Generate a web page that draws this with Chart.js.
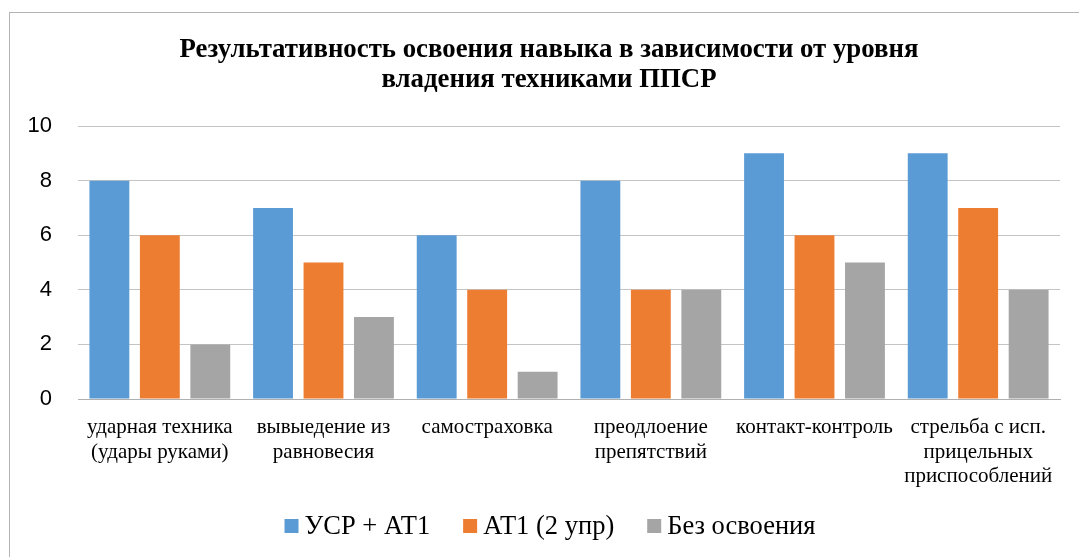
<!DOCTYPE html>
<html>
<head>
<meta charset="utf-8">
<script src="https://cdn.jsdelivr.net/npm/chart.js@4/dist/chart.umd.min.js"></script>
<style>
  body { margin: 0; background: #fff; }
  #wrap { position: relative; width: 1079px; height: 557px; }
  #frame { position: absolute; left: 9px; top: 12px; right: -2px; bottom: -2px; border: 1px solid #b4b4b4; }
  canvas { position: absolute; left: 0; top: 0; }
</style>
</head>
<body>
<div id="wrap">
  <div id="frame"></div>
  <canvas id="chart" width="1079" height="557"></canvas>
</div>
<script>
const categories = [
  ['ударная техника', '(удары руками)'],
  ['вывыедение из', 'равновесия'],
  'самостраховка',
  ['преодлоение', 'препятствий'],
  'контакт-контроль',
  ['стрельба с исп.', 'прицельных', 'приспособлений']
];
const seriesNames = ['УСР + АТ1', 'АТ1 (2 упр)', 'Без освоения'];
const usrAt1 = [8, 7, 6, 8, 9, 9];
const at1 = [6, 5, 4, 4, 6, 7];
const noSkill = [2, 3, 1, 4, 5, 4];
const yTicks = [0, 2, 4, 6, 8, 10];
const colors = ['#5b9bd5', '#ed7d31', '#a5a5a5'];

const serif = '"Liberation Serif", "Times New Roman", serif';

// legend drawn by hand so the spacing matches the original (box, small gap, text)
const bottomLegend = {
  id: 'bottomLegend',
  afterDraw(chart) {
    const c = chart.ctx;
    const box = 14, gap = 6, spacing = 33, y = 526;
    c.save();
    c.font = '26.5px ' + serif;
    c.textBaseline = 'middle';
    const items = chart.data.datasets.map(ds => ({
      text: ds.label, color: ds.backgroundColor, w: c.measureText(ds.label).width
    }));
    const total = items.reduce((s, it) => s + box + gap + it.w, 0) + spacing * (items.length - 1);
    let x = 550 - total / 2;
    items.forEach(it => {
      c.fillStyle = it.color;
      c.fillRect(x, y - box / 2, box, box);
      c.fillStyle = '#000';
      c.fillText(it.text, x + box + gap, y + 1);
      x += box + gap + it.w + spacing;
    });
    c.restore();
  }
};

const ctx = document.getElementById('chart');
new Chart(ctx, {
  type: 'bar',
  data: {
    labels: categories,
    datasets: [usrAt1, at1, noSkill].map((d, i) => ({
      label: seriesNames[i],
      data: d,
      backgroundColor: colors[i],
      categoryPercentage: 0.925,
      barPercentage: 0.79,
      yAxisID: 'y'
    }))
  },
  options: {
    responsive: false,
    animation: false,
    layout: { padding: { left: 19, right: 0, top: 0, bottom: 68 } },
    plugins: {
      title: {
        display: true,
        text: ['Результативность освоения навыка в зависимости от уровня', 'владения техниками ППСР'],
        color: '#000',
        font: { family: serif, size: 26.8, weight: 'bold', lineHeight: 1.12 },
        padding: { top: 35, bottom: 31 }
      },
      legend: { display: false },
      tooltip: { enabled: false }
    },
    scales: {
      x: {
        grid: { display: false },
        border: { color: '#b0b0b0', width: 1 },
        ticks: {
          color: '#000',
          font: { family: serif, size: 21, lineHeight: 1.18 },
          padding: 8,
          maxRotation: 0,
          autoSkip: false
        },
        afterFit: s => { s.height = 90; }
      },
      y: {
        min: 0,
        max: 10,
        afterBuildTicks: s => { s.ticks = yTicks.map(v => ({ value: v })); },
        grid: { color: '#c4c4c4', drawTicks: false },
        border: { display: false },
        ticks: {
          color: '#000',
          font: { family: '"Liberation Sans", Arial, sans-serif', size: 22 },
          padding: 26
        },
        afterFit: s => { s.width = 59; }
      },
      yRight: {
        type: 'linear',
        position: 'right',
        grid: { display: false },
        border: { display: false },
        ticks: { display: false },
        afterFit: s => { s.width = 19; }
      }
    }
  },
  plugins: [bottomLegend]
});
</script>
</body>
</html>
